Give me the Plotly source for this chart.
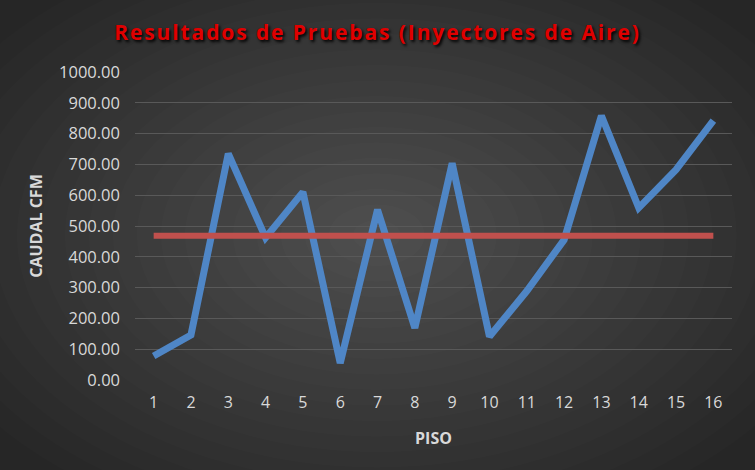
import plotly.graph_objects as go

pisos = list(range(1, 17))
caudal = [78, 146, 735, 462, 610, 55, 553, 169, 704, 141, 289, 455, 858, 559, 683, 842]
promedio = [468] * 16

titulo = "Resultados de Pruebas (Inyectores de Aire)"

fig = go.Figure()
fig.add_trace(go.Scatter(x=pisos, y=caudal, mode="lines", name="Caudal",
                         line=dict(color="#4F86C6", width=7)))
fig.add_trace(go.Scatter(x=pisos, y=promedio, mode="lines", name="Promedio",
                         line=dict(color="#C0504D", width=6)))

# fondo con degradado radial (aprox. con elipses semitransparentes)
shapes = []
n = 20
for i in range(n, 0, -1):
    t = i / n
    rx = 480 * t / 597
    ry = 310 * t / 308
    cx, cy = 0.405, 0.47
    shapes.append(dict(type="circle", xref="paper", yref="paper",
                       x0=cx - rx, x1=cx + rx, y0=cy - ry, y1=cy + ry,
                       fillcolor="rgba(255,255,255,0.012)", line_width=0, layer="below"))

fig.update_layout(
    width=755, height=470,
    margin=dict(l=135, r=23, t=72, b=90),
    paper_bgcolor="#262626",
    plot_bgcolor="rgba(0,0,0,0)",
    shapes=shapes,
    showlegend=False,
    font=dict(family="Open Sans", color="#D9D9D9", size=16),
    title=dict(text='<span style="letter-spacing:1.9px">' + titulo + "</span>",
               x=0.5, xanchor="center", y=0.93, yanchor="middle",
               font=dict(family="Open Sans", size=21, color="#E00000", weight="bold",
                         shadow="2px 2px 3px #000")),
)
fig.update_xaxes(range=[0.5, 16.5], dtick=1, tick0=1, showgrid=False, zeroline=False,
                 showline=False, ticklabelstandoff=11,
                 title=dict(text="<b>PISO</b>", font=dict(size=16, color="#D9D9D9"), standoff=20))
fig.update_yaxes(range=[0, 1000], dtick=100, tickformat=".2f", showgrid=True,
                 gridcolor="#595959", gridwidth=1, zeroline=False, showline=False,
                 ticklabelstandoff=14, tickfont=dict(size=16.5),
                 title=dict(text="<b>CAUDAL CFM</b>", font=dict(size=16, color="#D9D9D9"), standoff=12))

fig.write_html("out.html", config={"displayModeBar": False},
               post_script="document.body.style.margin='0';")
